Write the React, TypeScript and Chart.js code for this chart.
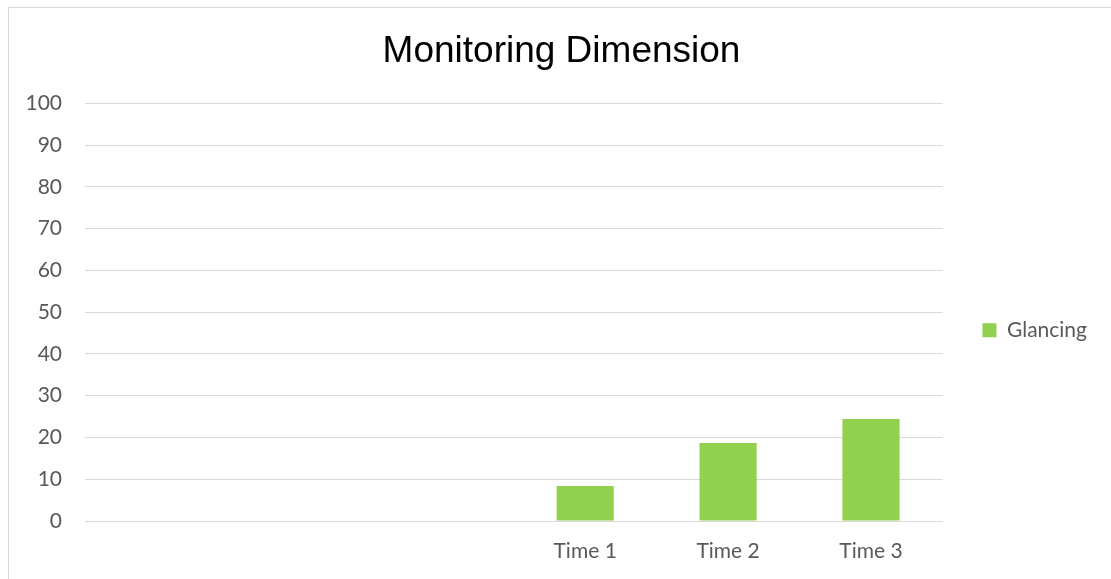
import React, { useEffect, useRef } from "react";
import { Chart, registerables } from "chart.js";

Chart.register(...registerables);

const chartTitle = "Monitoring Dimension";
const categories = ["", "", "", "Time 1", "Time 2", "Time 3"];
const seriesName = "Glancing";
const glancingValues = [null, null, null, 8.4, 18.7, 24.4];
const yTicks = [0, 10, 20, 30, 40, 50, 60, 70, 80, 90, 100];

const TICK_FONT = { family: "Lato", size: 21 };

export default function App() {
  const canvasRef = useRef<HTMLCanvasElement | null>(null);

  useEffect(() => {
    document.body.style.overflow = "hidden";
    const canvas = canvasRef.current;
    if (!canvas) return;
    const chart = new Chart(canvas, {
      type: "bar",
      data: {
        labels: categories,
        datasets: [
          {
            label: seriesName,
            data: glancingValues,
            backgroundColor: "#92D050",
            borderWidth: 0,
            barPercentage: 0.4,
            categoryPercentage: 1.0,
          },
        ],
      },
      options: {
        responsive: true,
        maintainAspectRatio: false,
        animation: false,
        layout: { padding: { left: 26, right: 14, top: 0, bottom: 0 } },
        plugins: {
          tooltip: { enabled: false },
          title: {
            display: true,
            text: chartTitle,
            color: "#000000",
            font: { family: "Liberation Sans", size: 37, weight: "normal" },
            padding: { top: 29.5, bottom: 29.5 },
          },
          legend: {
            display: true,
            position: "right",
            title: {
              display: true,
              text: " ",
              font: { size: 28 },
              padding: { top: 0, bottom: 48 },
            },
            labels: {
              color: "#595959",
              font: TICK_FONT,
              boxWidth: 14,
              boxHeight: 14,
              padding: 40,
            },
          },
        },
        scales: {
          x: {
            grid: { display: false, drawTicks: false },
            border: { display: false },
            afterFit: (scale: any) => {
              scale.height = 58;
            },
            ticks: {
              color: "#595959",
              font: TICK_FONT,
              padding: 18,
              maxRotation: 0,
              autoSkip: false,
            },
          },
          y: {
            min: 0,
            max: 100,
            afterBuildTicks: (scale: any) => {
              scale.ticks = yTicks.map((v) => ({ value: v }));
            },
            afterFit: (scale: any) => {
              scale.width = 59;
            },
            grid: { color: "#D9D9D9", lineWidth: 1, drawTicks: false },
            border: { display: false },
            ticks: {
              color: "#595959",
              font: TICK_FONT,
              padding: 23,
            },
          },
        },
      },
    });
    return () => chart.destroy();
  }, []);

  return (
    <div
      style={{
        position: "fixed",
        left: 0,
        top: 0,
        width: 1111,
        height: 579,
        overflow: "hidden",
        background: "#ffffff",
      }}
    >
      <div
        style={{
          position: "absolute",
          left: 8,
          top: 7,
          width: 1200,
          height: 700,
          border: "1px solid #D9D9D9",
        }}
      />
      <div style={{ position: "absolute", left: 0, top: 0, width: 1111, height: 579 }}>
        <canvas ref={canvasRef} />
      </div>
    </div>
  );
}
